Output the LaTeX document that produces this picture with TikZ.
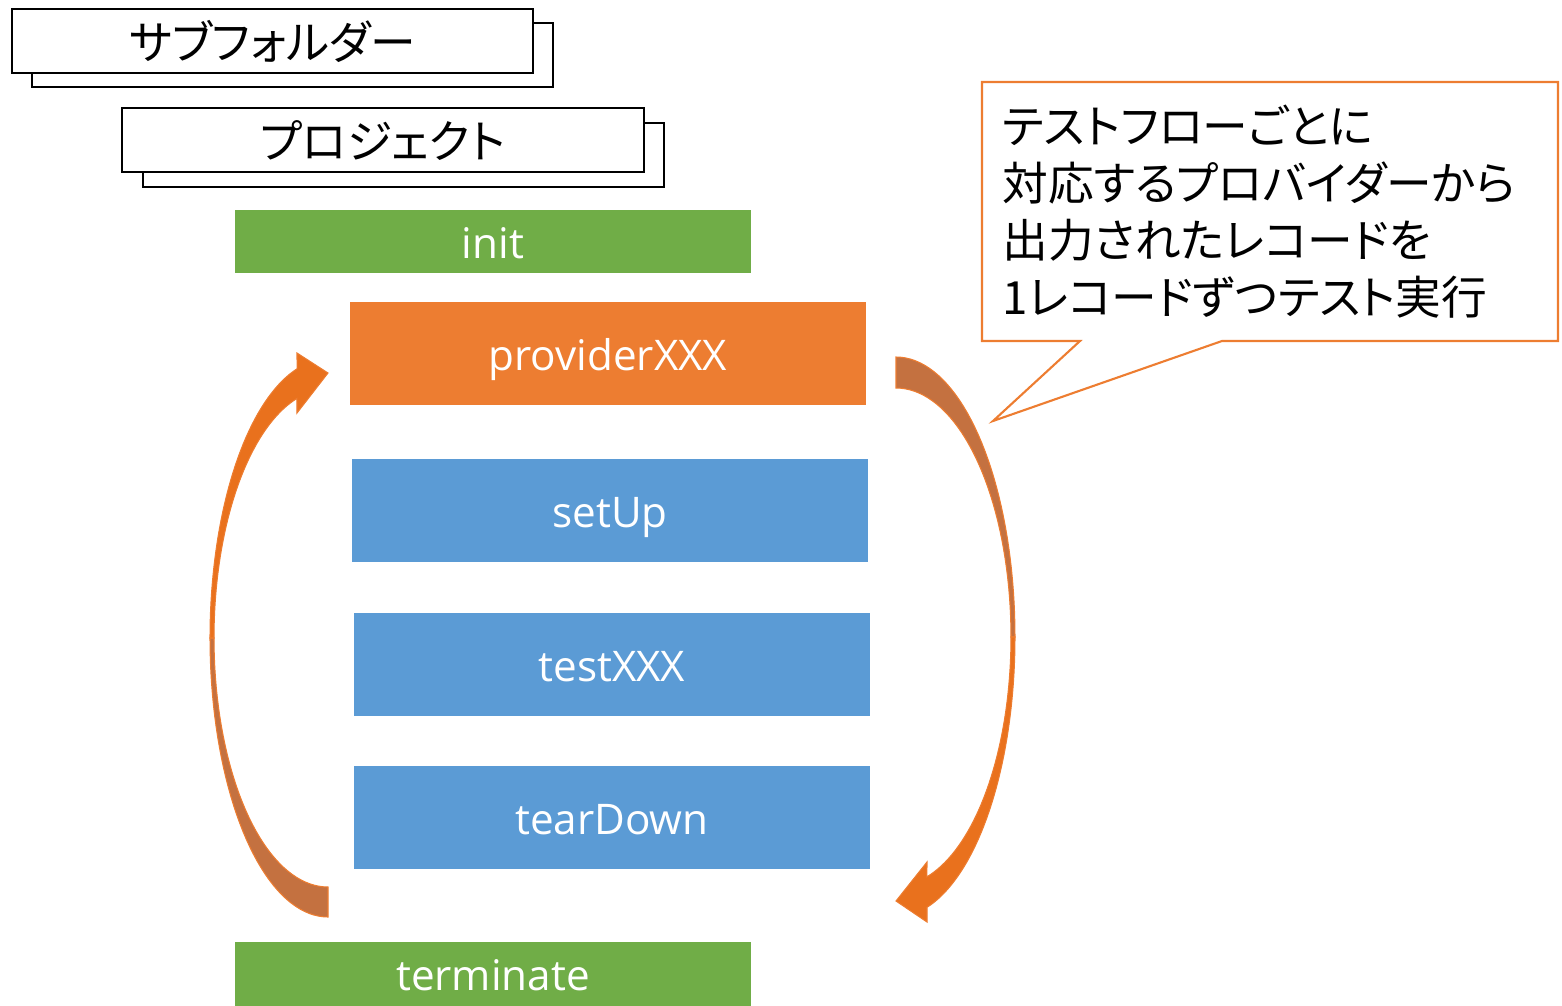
\documentclass[tikz,border=0pt]{standalone}
\usepackage{fontspec}
\setmainfont{Open Sans}
\newfontfamily\jpfont[RawFeature=+palt]{Noto Sans CJK JP}
\usepackage{tikz}
\usetikzlibrary{positioning}
\definecolor{initgreen}{RGB}{112,173,71}
\definecolor{provorange}{RGB}{237,125,49}
\definecolor{hookblue}{RGB}{91,155,213}
\definecolor{bandlight}{RGB}{233,113,29}
\definecolor{banddark}{RGB}{196,113,64}

\begin{document}
\begin{tikzpicture}[x=0.01cm, y=-0.01cm]
    \tikzset{
        folder/.style={
            draw=black,
            line width=0.6pt,
            fill=white,
            minimum width=5.21cm,
            minimum height=0.64cm,
            inner sep=0pt,
            font=\jpfont\fontsize{13}{15}\selectfont
        },
        phase/.style={fill=initgreen, text=white, minimum width=5.16cm, minimum height=0.63cm, inner sep=0pt,
            text height=9.4pt, text depth=0pt, font=\fontsize{12}{14}\selectfont},
        hook/.style={fill=#1, text=white, minimum width=5.16cm, minimum height=1.03cm, inner sep=0pt,
            text height=9.4pt, text depth=0pt, font=\fontsize{12}{14}\selectfont},
        loop band/.style={fill=#1, draw=provorange, line width=0.3pt},
    }
    \useasboundingbox (0,0) rectangle (1562,1005);

    % stacked folder boxes
    \node[folder] (subfolder-back) at (292.5,55) {};
    \node[folder] (subfolder) at (272.5,41) {サブフォルダー};
    \node[folder] (project-back) at (403.5,155) {};
    \node[folder] (project) at (383,140) {プロジェクト};

    \node[phase] (init) at (493,241.5) {init};
    \node[hook=provorange] (provider) at (608,353.5) {providerXXX};
    \node[hook=hookblue] (setup) at (610,510.5) {setUp};
    \node[hook=hookblue] (test) at (612,664.5) {testXXX};
    \node[hook=hookblue] (teardown) at (612,817.5) {tearDown};
    \node[phase] (terminate) at (493,974) {terminate};

    % loop arrow on the left, going up to provider
    \coordinate (left-loop) at (328,638);
    \begin{scope}[shift={(left-loop)}]
        \path[loop band=banddark] plot[domain=90:180, samples=40] ({118*cos(\x)}, {279*sin(\x)})
            -- plot[domain=180:90, samples=40] ({114*cos(\x)}, {249*sin(\x)}) -- cycle;
        \path[loop band=bandlight] plot[domain=180:254.8, samples=40] ({118*cos(\x)}, {279*sin(\x)})
            -- (-31,-285) -- (0,-265) -- (-31,-225)
            -- plot[domain=254.2:180, samples=40] ({114*cos(\x)}, {249*sin(\x)}) -- cycle;
    \end{scope}

    % loop arrow on the right, coming down from provider
    \coordinate (right-loop) at (896,637);
    \begin{scope}[shift={(right-loop)}]
        \path[loop band=banddark] plot[domain=-90:0, samples=40] ({119*cos(\x)}, {280*sin(\x)})
            -- plot[domain=0:-90, samples=40] ({115*cos(\x)}, {249*sin(\x)}) -- cycle;
        \path[loop band=bandlight] plot[domain=0:74.9, samples=40] ({119*cos(\x)}, {280*sin(\x)})
            -- (31,285) -- (0,264) -- (31,225)
            -- plot[domain=74.4:0, samples=40] ({115*cos(\x)}, {249*sin(\x)}) -- cycle;
    \end{scope}

    % callout
    \draw[provorange, line width=0.6pt, fill=white] (982,82) -- (1558,82) -- (1558,341) -- (1222,341)
        -- (993,421) -- (1080,341) -- (982,341) -- cycle;
    \node[anchor=west, align=left, inner sep=0pt, font=\jpfont\fontsize{13}{16.2}\selectfont] (note) at (1002,212)
        {テストフローごとに\\対応するプロバイダーから\\出力されたレコードを\\1レコードずつテスト実行};
\end{tikzpicture}
\end{document}
